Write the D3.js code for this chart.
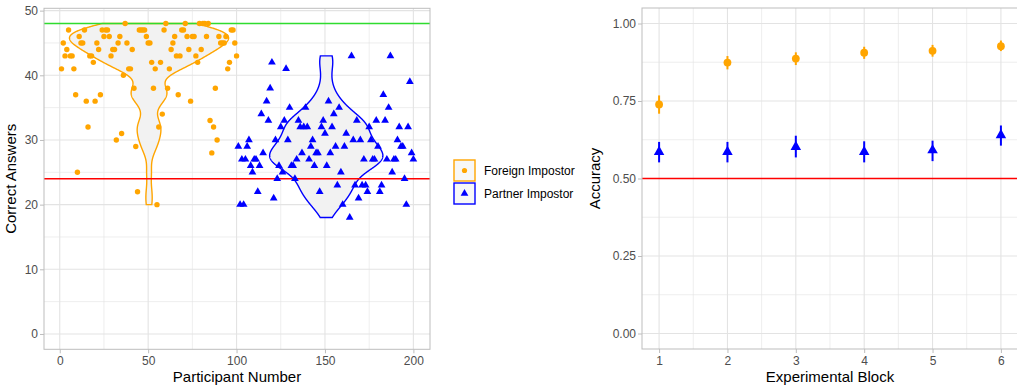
<!DOCTYPE html>
<html>
<head>
<meta charset="utf-8">
<script src="https://cdn.jsdelivr.net/npm/d3@7"></script>
<style>
  body { margin: 0; background: #fff; }
  text { font-family: "Liberation Sans", Arial, sans-serif; }
</style>
</head>
<body>
<svg id="chart" width="1017" height="390"></svg>
<script>
// left panel: correct answers per participant
const foreignId = [1,2,3,4,5,6,7,8,9,10,11,12,13,14,15,16,17,18,19,20,21,22,23,24,25,26,27,28,29,30,
	31,32,33,34,35,36,37,38,39,40,41,42,43,44,45,46,47,48,49,50,51,52,53,54,55,56,57,58,59,60,
	61,62,63,64,65,66,67,68,69,70,71,72,73,74,75,76,77,78,79,80,81,82,83,84,85,86,87,88,89,90,
	91,92,93,94,95,96,97,98,99,100];
const foreignCorrect = [41,45,43,44,47,43,43,41,37,25, 46,45,45,47,36,32,43,43,42,36,
	45,44,37,47,46,47,47,46,43,44, 44,30,45,46,31,40,48,45,41,41,
	44,38,29,22,47,47,47,47,46,45, 45,42,38,41,20,32,42,34,47,48,
	38,41,44,45,46,43,37,43,47,47, 48,46,44,36,46,46,43,42,48,44,
	48,48,46,48,33,28,32,38,30,46, 45,45,45,46,41,42,47,47,45,43];

const partnerId = [101,102,103,104,105,106,107,108,109,110,111,112,113,114,115,117,118,119,120,
	121,122,123,124,125,126,127,128,129,130,131,132,133,134,135,136,137,138,139,140,
	141,142,143,144,145,146,147,148,149,150,151,152,153,154,155,156,157,158,159,160,
	161,162,164,165,166,167,168,169,170,171,172,173,174,175,176,177,178,179,180,
	181,182,183,184,185,186,187,188,189,190,191,192,193,194,195,196,197,198,199,200];
const partnerCorrect = [29,20,27,20,27,29,30,26,25,27,27,22,26,34,28,36,33,38,42,
	21,30,24,26,32,25,33,41,30,35,26,26,24,27,33,32,28,32,35,32,
	27,29,30,26,28,28,22,32,33,31,26,36,28,32,34,29,23,35,25,20,
	29,31,18,43,30,23,33,21,30,23,27,23,22,32,30,27,27,33,29,
	22,23,37,33,27,35,43,25,27,27,30,32,29,29,24,20,32,39,28,27];

const chanceCorrect = 24;
const maxCorrect = 48;

// right panel: accuracy per block
const blocks = [1, 2, 3, 4, 5, 6];
const foreignAcc = [0.739, 0.874, 0.887, 0.906, 0.912, 0.927];
const foreignLo = [0.709, 0.852, 0.866, 0.886, 0.893, 0.911];
const foreignHi = [0.768, 0.895, 0.907, 0.925, 0.931, 0.945];
const partnerAcc = [0.586, 0.586, 0.602, 0.586, 0.591, 0.640];
const partnerLo = [0.552, 0.552, 0.568, 0.552, 0.556, 0.606];
const partnerHi = [0.618, 0.618, 0.638, 0.620, 0.622, 0.671];
const chanceAcc = 0.5;

const ORANGE = '#ffa500';
const BLUE = '#0000ff';
const GRID = '#e3e3e3';
const BORDER = '#bdbdbd';
const TICKTXT = '#4d4d4d';

const svg = d3.select('#chart');

// ---- left panel ----
const x = d3.scaleLinear().domain([-8.9, 209.4]).range([44, 430]);
const y = d3.scaleLinear().domain([-2.37, 50.36]).range([349.3, 8.3]);

function grid(g, xs, ys, xTicks, yTicks, xMinor, yMinor) {
	g.append('g').selectAll('line').data(xMinor).enter().append('line')
		.attr('x1', d => xs(d)).attr('x2', d => xs(d))
		.attr('y1', ys.range()[0]).attr('y2', ys.range()[1])
		.attr('stroke', GRID).attr('stroke-width', 0.6);
	g.append('g').selectAll('line').data(yMinor).enter().append('line')
		.attr('y1', d => ys(d)).attr('y2', d => ys(d))
		.attr('x1', xs.range()[0]).attr('x2', xs.range()[1])
		.attr('stroke', GRID).attr('stroke-width', 0.6);
	g.append('g').selectAll('line').data(xTicks).enter().append('line')
		.attr('x1', d => xs(d)).attr('x2', d => xs(d))
		.attr('y1', ys.range()[0]).attr('y2', ys.range()[1])
		.attr('stroke', GRID).attr('stroke-width', 1.1);
	g.append('g').selectAll('line').data(yTicks).enter().append('line')
		.attr('y1', d => ys(d)).attr('y2', d => ys(d))
		.attr('x1', xs.range()[0]).attr('x2', xs.range()[1])
		.attr('stroke', GRID).attr('stroke-width', 1.1);
}

function axes(g, xs, ys, xTicks, yTicks, xFmt, yFmt, xTitle, yTitle, xTitleX, yTitleX) {
	const [x0, x1] = xs.range();
	const [y0, y1] = ys.range();
	const xa = g.append('g').attr('transform', `translate(0,${y0})`)
		.call(d3.axisBottom(xs).tickValues(xTicks).tickFormat(xFmt).tickSize(4).tickPadding(3));
	const ya = g.append('g').attr('transform', `translate(${x0},0)`)
		.call(d3.axisLeft(ys).tickValues(yTicks).tickFormat(yFmt).tickSize(4).tickPadding(2));
	[xa, ya].forEach(a => {
		a.select('.domain').remove();
		a.selectAll('line').attr('stroke', BORDER);
		a.selectAll('text').attr('fill', TICKTXT).attr('font-size', '12px')
			.style('font-family', '"Liberation Sans", Arial, sans-serif');
	});
	g.append('rect')
		.attr('x', x0).attr('y', y1).attr('width', x1 - x0).attr('height', y0 - y1)
		.attr('fill', 'none').attr('stroke', BORDER).attr('stroke-width', 1);
	g.append('text')
		.attr('x', xTitleX).attr('y', 382)
		.attr('text-anchor', 'middle').attr('font-size', '15px').attr('fill', '#000')
		.text(xTitle);
	g.append('text')
		.attr('transform', `translate(${yTitleX},${(y0 + y1) / 2}) rotate(-90)`)
		.attr('text-anchor', 'middle').attr('font-size', '15px').attr('fill', '#000')
		.text(yTitle);
}

const left = svg.append('g');
grid(left, x, y, [0, 50, 100, 150, 200], [0, 10, 20, 30, 40, 50],
	[25, 75, 125, 175], [5, 15, 25, 35, 45]);

// kernel density like R density() with bw.nrd0, trimmed to data range
function violinDensity(values) {
	const n = values.length;
	const sorted = values.slice().sort(d3.ascending);
	const iqr = d3.quantileSorted(sorted, 0.75) - d3.quantileSorted(sorted, 0.25);
	const bw = 0.9 * Math.min(d3.deviation(values), iqr / 1.34) * Math.pow(n, -0.2);
	const [lo, hi] = d3.extent(values);
	return d3.range(512).map(i => {
		const v = lo + (hi - lo) * i / 511;
		const dens = d3.mean(values, d => Math.exp(-0.5 * ((v - d) / bw) ** 2)) / (bw * Math.sqrt(2 * Math.PI));
		return { v, dens };
	});
}

const groups = [
	{ ids: foreignId, vals: foreignCorrect, color: ORANGE },
	{ ids: partnerId, vals: partnerCorrect, color: BLUE }
];
groups.forEach(gr => {
	gr.center = d3.mean(gr.ids);
	gr.dens = violinDensity(gr.vals);
});
const maxDens = d3.max(groups, gr => d3.max(gr.dens, d => d.dens));
const halfWidth = 45;

groups.forEach(gr => {
	const pts = gr.dens.map(d => [x(gr.center - halfWidth * d.dens / maxDens), y(d.v)])
		.concat(gr.dens.slice().reverse().map(d => [x(gr.center + halfWidth * d.dens / maxDens), y(d.v)]));
	left.append('path')
		.attr('d', d3.line()(pts) + 'Z')
		.attr('fill', '#f2f2f2')
		.attr('stroke', gr.color)
		.attr('stroke-width', 1.4);
});

left.append('line')
	.attr('x1', x.range()[0]).attr('x2', x.range()[1])
	.attr('y1', y(maxCorrect)).attr('y2', y(maxCorrect))
	.attr('stroke', '#2fdc2f').attr('stroke-width', 1.5);
left.append('line')
	.attr('x1', x.range()[0]).attr('x2', x.range()[1])
	.attr('y1', y(chanceCorrect)).attr('y2', y(chanceCorrect))
	.attr('stroke', '#ff0000').attr('stroke-width', 1.5);

left.append('g').selectAll('circle')
	.data(foreignId.map((id, i) => [id, foreignCorrect[i]]))
	.enter().append('circle')
	.attr('cx', d => x(d[0])).attr('cy', d => y(d[1]))
	.attr('r', 2.7).attr('fill', ORANGE);

const triSmall = d3.symbol().type(d3.symbolTriangle).size(26);
left.append('g').selectAll('path')
	.data(partnerId.map((id, i) => [id, partnerCorrect[i]]))
	.enter().append('path')
	.attr('d', triSmall)
	.attr('transform', d => `translate(${x(d[0])},${y(d[1])})`)
	.attr('fill', BLUE);

axes(left, x, y, [0, 50, 100, 150, 200], [0, 10, 20, 30, 40, 50], d3.format('d'), d3.format('d'),
	'Participant Number', 'Correct Answers', 237, 16);

// ---- legend ----
const legend = svg.append('g');
const legendItems = [
	{ label: 'Foreign Impostor', color: ORANGE, shape: 'circle' },
	{ label: 'Partner Impostor', color: BLUE, shape: 'triangle' }
];
legendItems.forEach((it, i) => {
	const ky = 160 + i * 23;
	legend.append('rect')
		.attr('x', 454).attr('y', ky).attr('width', 21).attr('height', 21)
		.attr('fill', '#f7f7f7').attr('stroke', it.color).attr('stroke-width', 1.4);
	if (it.shape === 'circle') {
		legend.append('circle').attr('cx', 464.5).attr('cy', ky + 10.5).attr('r', 2.6).attr('fill', it.color);
	} else {
		legend.append('path').attr('d', triSmall)
			.attr('transform', `translate(464.5,${ky + 10.5})`).attr('fill', it.color);
	}
	legend.append('text')
		.attr('x', 484).attr('y', ky + 10.5).attr('dy', '0.35em')
		.attr('font-size', '12px').attr('fill', '#000')
		.text(it.label);
});

// ---- right panel ----
const x2 = d3.scaleLinear().domain([0.75, 6.25]).range([642, 1018]);
const y2 = d3.scaleLinear().domain([-0.05, 1.05]).range([349, 8]);
const right = svg.append('g');
grid(right, x2, y2, blocks, [0, 0.25, 0.5, 0.75, 1],
	[1.5, 2.5, 3.5, 4.5, 5.5], [0.125, 0.375, 0.625, 0.875]);

right.append('line')
	.attr('x1', x2.range()[0]).attr('x2', x2.range()[1])
	.attr('y1', y2(chanceAcc)).attr('y2', y2(chanceAcc))
	.attr('stroke', '#ff0000').attr('stroke-width', 1.5);

const series = [
	{ mean: foreignAcc, lo: foreignLo, hi: foreignHi, color: ORANGE, shape: 'circle' },
	{ mean: partnerAcc, lo: partnerLo, hi: partnerHi, color: BLUE, shape: 'triangle' }
];
const triBig = d3.symbol().type(d3.symbolTriangle).size(48);
series.forEach(s => {
	const rows = blocks.map((b, i) => ({ b, m: s.mean[i], lo: s.lo[i], hi: s.hi[i] }));
	const g = right.append('g');
	g.selectAll('line').data(rows).enter().append('line')
		.attr('x1', d => x2(d.b)).attr('x2', d => x2(d.b))
		.attr('y1', d => y2(d.lo)).attr('y2', d => y2(d.hi))
		.attr('stroke', s.color).attr('stroke-width', 2);
	if (s.shape === 'circle') {
		g.selectAll('circle').data(rows).enter().append('circle')
			.attr('cx', d => x2(d.b)).attr('cy', d => y2(d.m))
			.attr('r', 3.9).attr('fill', s.color);
	} else {
		g.selectAll('path').data(rows).enter().append('path')
			.attr('d', triBig)
			.attr('transform', d => `translate(${x2(d.b)},${y2(d.m)})`)
			.attr('fill', s.color);
	}
});

axes(right, x2, y2, blocks, [0, 0.25, 0.5, 0.75, 1], d3.format('d'), d3.format('.2f'),
	'Experimental Block', 'Accuracy', 830, 600);
</script>
</body>
</html>
